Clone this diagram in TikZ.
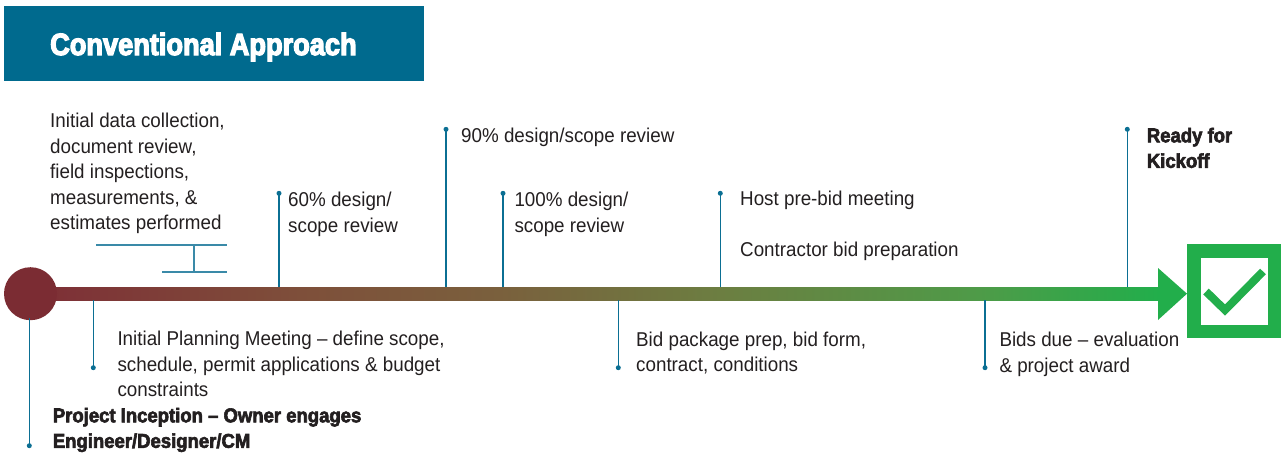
\documentclass[tikz,border=0pt]{standalone}
\usepackage{fontspec}
\setmainfont{Liberation Sans}[FakeStretch=0.94]
\newfontfamily\heavyfont{Liberation Sans Bold}[FakeStretch=0.925,FakeBold=3]
\newfontfamily\titlefont{Liberation Sans Bold}[FakeStretch=0.885,FakeBold=4]
\definecolor{titleblue}{HTML}{006A8E}
\definecolor{tickc}{HTML}{0B6F93}
\definecolor{bracketc}{HTML}{3A8AA8}
\definecolor{txt}{HTML}{231F20}
\definecolor{gr}{HTML}{22AE4B}
\definecolor{redc}{HTML}{7B2C33}
\definecolor{c1}{HTML}{7E2E36}
\definecolor{c2}{HTML}{7E4F3A}
\definecolor{c3}{HTML}{7A603D}
\definecolor{c4}{HTML}{6C7E41}
\definecolor{c5}{HTML}{4E9B48}
\definecolor{c6}{HTML}{22AE4B}
\pgfdeclarehorizontalshading{barshade}{100bp}{color(0bp)=(c1); color(25bp)=(c1); color(37bp)=(c2); color(45.8bp)=(c3); color(55.6bp)=(c4); color(67.1bp)=(c5); color(75bp)=(c6); color(100bp)=(c6)}
\begin{document}
\begin{tikzpicture}[x=1pt,y=-1pt,
  lbl/.style={anchor=base west, inner sep=0pt, align=left, text=txt, font={\fontsize{20}{25.5}\selectfont}},
  blbl/.style={lbl, font={\heavyfont\fontsize{20}{25.5}\selectfont}},
  dot/.style={circle, fill=tickc, inner sep=0pt, minimum size=5pt},
  tickline/.style={draw=tickc, line width=1.5pt}]
\useasboundingbox (0,0) rectangle (1283,455);
% title
\fill[titleblue] (4,6) rectangle (424,81);
\node[anchor=base west, inner sep=0pt, text=white, font={\titlefont\fontsize{30.7}{32}\selectfont}] (title) at (50,55) {Conventional Approach};
% bar
\path[shading=barshade] (30,287) rectangle (1158,300.5);
\fill[gr] (1158,268) -- (1187,293.7) -- (1158,320) -- cycle;
\node[circle, fill=redc, inner sep=0pt, minimum size=53pt] (start) at (30.5,293.7) {};
% check box
\node[draw=gr, line width=13.5pt, minimum width=80.5pt, minimum height=80.5pt, inner sep=0pt] (box) at (1234,291) {};
\draw[gr, line width=8pt] (1206,291.5) -- (1225,310) -- (1263,271.5);
% bracket
\draw[bracketc, line width=1.5pt] (96,245) -- (227,245) (194,245) -- (194,272) (162,272) -- (227,272);
% texts above (anchor = baseline of last line)
\node[lbl] (data) at (50,229.7) {Initial data collection,\\document review,\\field inspections,\\measurements, \&\\estimates performed};
\node[lbl] (t60) at (288,232.2) {60\% design/\\scope review};
\node[lbl] (t90) at (461,142.3) {90\% design/scope review};
\node[lbl] (t100) at (514.3,232.2) {100\% design/\\scope review};
\node[lbl] (host) at (740,205.7) {Host pre-bid meeting};
\node[lbl] (contr) at (740,256.7) {Contractor bid preparation};
\node[blbl] (ready) at (1146.7,167.8) {Ready for\\Kickoff};
% texts below
\node[lbl] (plan) at (117.3,396.7) {Initial Planning Meeting – define scope,\\schedule, permit applications \& budget\\constraints};
\node[blbl] (incep) at (52.7,447.8) {Project Inception – Owner engages\\Engineer/Designer/CM};
\node[lbl] (bidpack) at (636,371.5) {Bid package prep, bid form,\\contract, conditions};
\node[lbl] (bids) at (999.3,372.2) {Bids due – evaluation\\\& project award};
% ticks above
\node[dot] (d60) at (279,193.3) {};
\coordinate (b60) at (279,287);
\node[dot] (d90) at (446,129.3) {};
\coordinate (b90) at (446,287);
\node[dot] (d100) at (503,193.3) {};
\coordinate (b100) at (503,287);
\node[dot] (dhost) at (720.3,193.3) {};
\coordinate (bhost) at (720.3,287);
\node[dot] (dready) at (1127.3,129.3) {};
\coordinate (bready) at (1127.3,287);
% ticks below
\node[dot] (dplan) at (93.3,367.7) {};
\coordinate (bplan) at (93.3,300);
\node[dot] (dincep) at (29.3,445.7) {};
\coordinate (bincep) at (29.3,318);
\node[dot] (dbidpack) at (618.3,367.7) {};
\coordinate (bbidpack) at (618.3,300);
\node[dot] (dbids) at (985,367.7) {};
\coordinate (bbids) at (985,300);
\foreach \a/\b in {d60/b60,d90/b90,d100/b100,dhost/bhost,dready/bready,dplan/bplan,dincep/bincep,dbidpack/bbidpack,dbids/bbids}
  \draw[tickline] (\a.center) -- (\b);
\end{tikzpicture}
\end{document}
